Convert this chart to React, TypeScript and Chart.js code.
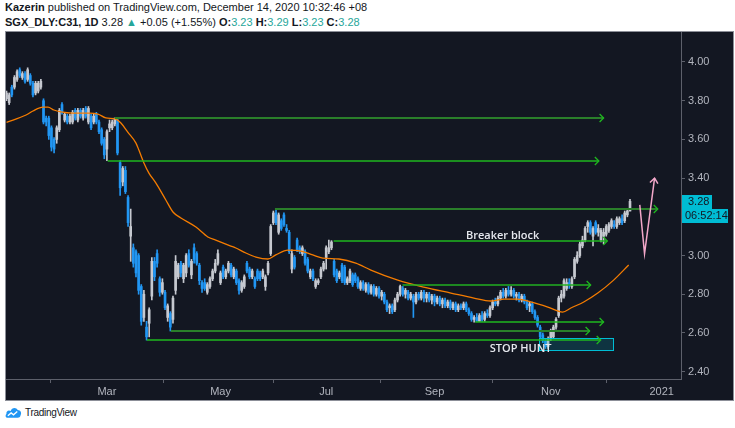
import React, { useEffect, useRef } from "react";
import { Chart, registerables } from "chart.js";

Chart.register(...registerables);

// Bar index 0 = first SGX trading day of 2020; chart shows from bar 3.
const firstBar = 3;

const opens = [
  3.81,3.79,3.87,3.87,3.91,3.96,3.92,3.94,3.91,3.93,
  3.89,3.84,3.85,3.87,3.80,3.71,3.71,3.66,3.60,3.60,
  3.65,3.78,3.70,3.72,3.69,3.69,3.75,3.70,3.75,3.71,
  3.76,3.69,3.72,3.69,3.73,3.69,3.65,3.60,3.55,3.66,
  3.66,3.68,3.70,3.48,3.38,3.44,3.30,3.10,3.04,3.02,
  3.00,2.84,2.68,2.63,2.65,2.79,2.97,3.01,2.88,2.81,
  2.81,2.68,2.70,2.67,2.82,2.89,2.96,2.88,2.91,3.01,
  2.90,3.04,3.01,2.95,2.86,2.86,2.81,2.84,2.88,2.92,
  2.96,2.86,2.94,2.89,2.92,2.95,2.89,2.92,2.87,2.82,
  2.84,2.96,2.93,2.89,2.88,2.92,2.91,2.89,2.84,2.91,
  3.01,3.17,3.22,3.12,3.18,3.21,3.14,3.12,2.93,2.99,
  3.08,3.04,3.01,3.02,2.98,2.89,2.92,2.84,2.86,2.89,
  2.93,2.99,3.02,3.04,2.97,2.92,2.89,2.95,2.94,2.86,
  2.87,2.90,2.90,2.88,2.83,2.86,2.82,2.85,2.81,2.84,
  2.80,2.83,2.79,2.80,2.76,2.73,2.74,2.72,2.77,2.80,
  2.83,2.80,2.81,2.78,2.79,2.76,2.80,2.78,2.81,2.78,
  2.80,2.77,2.79,2.76,2.78,2.75,2.77,2.74,2.76,2.73,
  2.75,2.72,2.74,2.73,2.75,2.72,2.70,2.67,2.68,2.66,
  2.69,2.67,2.70,2.69,2.73,2.76,2.75,2.78,2.81,2.79,
  2.82,2.80,2.82,2.79,2.80,2.77,2.79,2.76,2.74,2.75,
  2.71,2.68,2.63,2.59,2.56,2.53,2.57,2.58,2.63,2.69,
  2.78,2.79,2.83,2.86,2.84,2.89,2.97,3.00,3.05,3.08,
  3.15,3.17,3.10,3.17,3.12,3.08,3.10,3.11,3.13,3.15,
  3.16,3.15,3.17,3.19,3.18,3.21,3.23
];
const highs = [
  3.85,3.84,3.88,3.93,3.96,3.97,3.95,3.95,3.97,3.94,
  3.90,3.90,3.90,3.91,3.81,3.72,3.72,3.67,3.61,3.67,
  3.76,3.79,3.74,3.73,3.73,3.75,3.76,3.76,3.76,3.76,
  3.77,3.77,3.73,3.73,3.74,3.70,3.66,3.61,3.65,3.70,
  3.70,3.71,3.71,3.49,3.46,3.46,3.31,3.24,3.06,3.03,
  3.01,2.85,2.82,2.66,2.73,2.99,2.99,3.03,2.89,2.88,
  2.82,2.75,2.71,2.79,3.00,2.96,2.97,2.96,3.01,3.03,
  2.98,3.06,3.02,2.96,2.87,2.88,2.86,2.89,2.93,2.98,
  3.03,2.92,2.95,2.93,2.97,2.96,2.94,2.93,2.88,2.87,
  2.90,2.97,2.94,2.93,2.89,2.93,2.92,2.93,2.90,2.97,
  3.16,3.23,3.24,3.22,3.19,3.22,3.16,3.13,3.03,3.00,
  3.09,3.05,3.05,3.03,2.99,2.93,2.93,2.88,2.88,2.94,
  2.97,3.05,3.08,3.077,2.98,2.93,2.92,2.96,2.95,2.89,
  2.93,2.91,2.91,2.89,2.87,2.87,2.86,2.86,2.85,2.85,
  2.84,2.84,2.82,2.81,2.77,2.75,2.75,2.78,2.81,2.847,
  2.84,2.83,2.82,2.81,2.80,2.81,2.81,2.82,2.82,2.81,
  2.81,2.80,2.80,2.79,2.79,2.78,2.78,2.77,2.77,2.76,
  2.76,2.75,2.75,2.76,2.76,2.73,2.71,2.69,2.70,2.70,
  2.71,2.71,2.72,2.74,2.77,2.78,2.79,2.82,2.83,2.83,
  2.84,2.84,2.83,2.81,2.81,2.80,2.80,2.77,2.76,2.76,
  2.72,2.69,2.64,2.60,2.57,2.58,2.62,2.64,2.68,2.79,
  2.82,2.88,2.88,2.88,2.89,2.99,3.02,3.07,3.10,3.15,
  3.18,3.18,3.15,3.18,3.16,3.14,3.14,3.16,3.17,3.19,
  3.18,3.20,3.20,3.21,3.23,3.24,3.29
];
const lows = [
  3.80,3.78,3.82,3.86,3.90,3.92,3.91,3.89,3.90,3.88,
  3.82,3.83,3.84,3.86,3.68,3.67,3.60,3.54,3.53,3.58,
  3.64,3.73,3.69,3.68,3.68,3.68,3.70,3.69,3.71,3.70,
  3.71,3.68,3.65,3.68,3.68,3.63,3.57,3.50,3.49,3.64,
  3.65,3.67,3.52,3.31,3.36,3.32,3.15,2.97,2.94,2.89,
  2.80,2.64,2.66,2.563,2.58,2.77,2.87,2.94,2.79,2.80,
  2.72,2.66,2.61,2.65,2.80,2.88,2.89,2.86,2.89,2.94,
  2.88,2.96,2.95,2.85,2.81,2.82,2.80,2.83,2.87,2.91,
  2.95,2.85,2.88,2.88,2.91,2.89,2.88,2.85,2.80,2.81,
  2.83,2.91,2.88,2.88,2.83,2.87,2.87,2.88,2.82,2.90,
  3.00,3.16,3.16,3.11,3.13,3.15,3.12,3.01,2.91,2.93,
  3.02,3.01,3.00,2.95,2.91,2.88,2.87,2.83,2.85,2.88,
  2.92,2.93,3.01,3.03,2.89,2.86,2.88,2.86,2.85,2.85,
  2.86,2.84,2.86,2.83,2.82,2.82,2.81,2.80,2.80,2.79,
  2.79,2.78,2.77,2.75,2.71,2.70,2.70,2.71,2.76,2.79,
  2.79,2.78,2.77,2.77,2.68,2.75,2.77,2.77,2.76,2.76,
  2.76,2.75,2.74,2.75,2.74,2.73,2.73,2.73,2.72,2.72,
  2.71,2.71,2.72,2.72,2.71,2.69,2.66,2.656,2.66,2.66,
  2.66,2.66,2.68,2.68,2.72,2.74,2.74,2.77,2.78,2.78,
  2.79,2.79,2.78,2.77,2.76,2.76,2.75,2.72,2.71,2.70,
  2.67,2.63,2.57,2.55,2.52,2.52,2.56,2.57,2.62,2.68,
  2.76,2.78,2.82,2.83,2.83,2.88,2.96,2.99,3.04,3.07,
  3.12,3.11,3.05,3.11,3.10,3.07,3.06,3.10,3.12,3.14,
  3.14,3.14,3.16,3.16,3.17,3.20,3.23
];
const closes = [
  3.84,3.83,3.83,3.92,3.95,3.93,3.94,3.90,3.96,3.89,
  3.83,3.89,3.89,3.90,3.69,3.69,3.62,3.56,3.55,3.66,
  3.75,3.74,3.73,3.69,3.72,3.74,3.71,3.75,3.72,3.75,
  3.72,3.76,3.66,3.72,3.69,3.64,3.58,3.52,3.64,3.68,
  3.69,3.71,3.53,3.35,3.45,3.33,3.17,3.15,2.96,2.91,
  2.82,2.66,2.80,2.58,2.72,2.97,2.89,2.96,2.81,2.86,
  2.73,2.74,2.63,2.78,2.97,2.95,2.91,2.95,3.00,2.95,
  2.97,2.98,2.96,2.87,2.83,2.83,2.85,2.88,2.92,2.96,
  3.01,2.91,2.89,2.92,2.96,2.90,2.93,2.86,2.82,2.86,
  2.89,2.92,2.89,2.92,2.84,2.88,2.88,2.92,2.89,2.96,
  3.15,3.22,3.17,3.21,3.14,3.16,3.13,3.02,3.01,2.94,
  3.03,3.02,3.04,2.96,2.92,2.92,2.88,2.87,2.87,2.93,
  2.96,3.04,3.04,3.07,2.90,2.87,2.91,2.87,2.86,2.88,
  2.92,2.85,2.87,2.84,2.86,2.83,2.85,2.81,2.84,2.80,
  2.83,2.79,2.81,2.76,2.72,2.74,2.71,2.77,2.80,2.84,
  2.80,2.82,2.78,2.80,2.76,2.80,2.78,2.81,2.78,2.80,
  2.77,2.79,2.76,2.78,2.75,2.77,2.74,2.76,2.73,2.75,
  2.72,2.74,2.73,2.75,2.72,2.70,2.67,2.68,2.66,2.69,
  2.67,2.70,2.69,2.73,2.76,2.75,2.78,2.81,2.79,2.82,
  2.80,2.82,2.79,2.80,2.77,2.79,2.76,2.73,2.75,2.71,
  2.68,2.64,2.58,2.56,2.53,2.57,2.61,2.63,2.67,2.78,
  2.80,2.87,2.86,2.85,2.88,2.98,3.00,3.06,3.08,3.14,
  3.17,3.12,3.14,3.12,3.14,3.13,3.12,3.15,3.16,3.18,
  3.15,3.19,3.19,3.17,3.22,3.23,3.28
];

// Moving average, read at sample bars
const maIdx = [3, 10.4, 13, 16.8, 18.7, 20.9, 23.6, 28.1, 34.2, 37.6, 40.6, 44.4, 46.3, 48.9, 52, 53.1, 55, 56.9, 59.5, 63.3, 66, 69, 74.7, 79.2, 82.2, 87.9, 89.8, 93.6, 97.4, 101.9, 104.9, 109.5, 114.4, 118.9, 122.7, 128.8, 135.2, 140.9, 151.1, 160.9, 171.2, 179.9, 186.3, 191.2, 196.5, 201.4, 207.9, 213.5, 216.6, 221.5, 226.8, 232.8, 238.5];
const maVal = [3.688, 3.726, 3.747, 3.767, 3.767, 3.752, 3.742, 3.736, 3.736, 3.731, 3.711, 3.705, 3.685, 3.638, 3.581, 3.545, 3.478, 3.426, 3.375, 3.287, 3.225, 3.194, 3.147, 3.096, 3.08, 3.049, 3.039, 3.013, 2.992, 2.982, 3.003, 3.028, 3.023, 3.003, 2.987, 2.982, 2.961, 2.925, 2.873, 2.837, 2.806, 2.78, 2.765, 2.775, 2.775, 2.76, 2.734, 2.708, 2.729, 2.76, 2.806, 2.873, 2.951];

const xTickIdx = [41, 84, 124, 165, 209, 251];
const xTickLabels = ["Mar", "May", "Jul", "Sep", "Nov", "2021"];
const yTicks = [2.4, 2.6, 2.8, 3.0, 3.2, 3.4, 3.6, 3.8, 4.0];

// Horizontal arrow levels drawn on the chart
const levelStart = [44, 41.3, 104.6, 126.8, 152.9, 180.4, 65.2, 56.1];
const levelEnd = [229, 227.2, 249.5, 230.4, 224.1, 229, 223.7, 227.9];
const levelPrice = [3.712, 3.487, 3.24, 3.076, 2.847, 2.656, 2.61, 2.563];
const levelColor = ["#2a7f2a", "#1fb81f", "#2a7f2a", "#1fb81f", "#22b022", "#1fb81f", "#2a7f2a", "#1fb81f"];
const levelWidth = [2, 1.5, 2, 1.5, 1.5, 1.5, 2, 1.5];

// Projected path (pink)
const pathIdx = [242.7, 244.5, 248.3];
const pathPrice = [3.262, 3.01, 3.4];

// Stop hunt zone
const zoneIdx = [204.4, 232.7];
const zonePrice = [2.575, 2.512];

const noteText = ["Breaker block", "STOP HUNT"];
const noteIdx = [190.8, 197.6];
const notePrice = [3.101, 2.519];

const lastPrice = 3.28;
const countdown = "06:52:14";

const axisFont = { family: "'Liberation Sans Narrow', 'Liberation Sans', Arial, sans-serif", size: 11 };
const teal = "#26a69a";

export default function App() {
  const ref = useRef<HTMLCanvasElement>(null);

  useEffect(() => {
    const canvas = ref.current;
    if (!canvas) return;
    const upColor = "#c6c9d0";
    const downColor = "#2196f3";
    const colors = opens.map((o, i) => (closes[i] >= o ? upColor : downColor));
    const bodyData = opens.map((o, i) => ({ x: firstBar + i, y: [o, closes[i]] }));
    const wickData = opens.map((o, i) => ({ x: firstBar + i, y: [lows[i], highs[i]] }));
    const maData = maIdx.map((x, i) => ({ x, y: maVal[i] }));

    const bgPlugin = {
      id: "bg",
      beforeDraw(chart: any) {
        const { ctx, width, height } = chart;
        ctx.save();
        ctx.fillStyle = "#131722";
        ctx.fillRect(0, 0, width, height);
        ctx.restore();
      },
    };

    const drawPlugin = {
      id: "drawings",
      afterDatasetsDraw(chart: any) {
        const { ctx, chartArea } = chart;
        const xs = chart.scales.x;
        const ys = chart.scales.y;
        ctx.save();
        ctx.beginPath();
        ctx.rect(chartArea.left, chartArea.top, chartArea.right - chartArea.left, chartArea.bottom - chartArea.top);
        ctx.clip();

        // zone box
        const bx0 = Math.round(xs.getPixelForValue(zoneIdx[0])) + 0.5;
        const bx1 = Math.round(xs.getPixelForValue(zoneIdx[1])) + 0.5;
        const by0 = Math.round(ys.getPixelForValue(zonePrice[0])) + 0.5;
        const by1 = Math.round(ys.getPixelForValue(zonePrice[1])) + 0.5;
        ctx.fillStyle = "rgba(0,188,212,0.18)";
        ctx.fillRect(bx0, by0, bx1 - bx0, by1 - by0);
        ctx.strokeStyle = "#00bcd4";
        ctx.lineWidth = 1;
        ctx.strokeRect(bx0, by0, bx1 - bx0, by1 - by0);

        // level arrows
        levelPrice.forEach((p, i) => {
          const x0 = xs.getPixelForValue(levelStart[i]);
          const x1 = xs.getPixelForValue(levelEnd[i]);
          const w = levelWidth[i];
          const yy = Math.round(ys.getPixelForValue(p));
          ctx.strokeStyle = levelColor[i];
          ctx.lineWidth = w;
          ctx.beginPath();
          ctx.moveTo(x0, yy);
          ctx.lineTo(x1, yy);
          ctx.stroke();
          ctx.strokeStyle = "#1fb81f";
          ctx.lineWidth = 1.3;
          ctx.beginPath();
          ctx.moveTo(x1 - 4, yy - 4);
          ctx.lineTo(x1, yy);
          ctx.lineTo(x1 - 4, yy + 4);
          ctx.stroke();
        });

        // pink projected path
        const pts = pathIdx.map((v, i) => [xs.getPixelForValue(v), ys.getPixelForValue(pathPrice[i])]);
        ctx.strokeStyle = "#f2a7c9";
        ctx.lineWidth = 1.5;
        ctx.beginPath();
        pts.forEach((pt, i) => (i === 0 ? ctx.moveTo(pt[0], pt[1]) : ctx.lineTo(pt[0], pt[1])));
        ctx.stroke();
        const tip = pts[pts.length - 1];
        const prev = pts[pts.length - 2];
        const dx = tip[0] - prev[0];
        const dy = tip[1] - prev[1];
        const len = Math.hypot(dx, dy);
        const ux = dx / len, uy = dy / len;
        const px = -uy, py = ux;
        ctx.beginPath();
        ctx.moveTo(tip[0] - ux * 5 + px * 4, tip[1] - uy * 5 + py * 4);
        ctx.lineTo(tip[0], tip[1]);
        ctx.lineTo(tip[0] - ux * 5 - px * 4, tip[1] - uy * 5 - py * 4);
        ctx.stroke();

        // notes
        ctx.fillStyle = "#e6e8ee";
        ctx.font = "600 11px 'Open Sans', 'Noto Sans', sans-serif";
        ctx.textAlign = "center";
        ctx.textBaseline = "middle";
        noteText.forEach((t, i) => {
          ctx.fillText(t, xs.getPixelForValue(noteIdx[i]), ys.getPixelForValue(notePrice[i]));
        });
        ctx.restore();
      },
      afterDraw(chart: any) {
        const { ctx, chartArea } = chart;
        const ys = chart.scales.y;
        const yy = Math.round(ys.getPixelForValue(lastPrice));
        const left = chartArea.right + 1;
        ctx.save();
        ctx.fillStyle = "#00bcd4";
        ctx.fillRect(left, yy - 6, 30, 14);
        ctx.fillRect(left, yy + 8, 46, 14);
        ctx.fillStyle = "#131722";
        ctx.font = `${axisFont.size}px ${axisFont.family}`;
        ctx.textAlign = "left";
        ctx.textBaseline = "middle";
        ctx.fillText(lastPrice.toFixed(2), left + 6, yy + 1);
        ctx.fillText(countdown, left + 3, yy + 15);
        ctx.restore();
      },
    };

    const chart = new Chart(canvas, {
      type: "bar",
      data: {
        datasets: [
          {
            type: "line",
            data: maData as any,
            borderColor: "#f57c00",
            borderWidth: 1.3,
            pointRadius: 0,
            cubicInterpolationMode: "monotone",
            order: 0,
          } as any,
          {
            type: "bar",
            data: bodyData as any,
            backgroundColor: colors,
            barThickness: 2,
            grouped: false,
            order: 1,
          } as any,
          {
            type: "bar",
            data: wickData as any,
            backgroundColor: colors,
            barThickness: 1,
            grouped: false,
            order: 2,
          } as any,
        ],
      },
      options: {
        animation: false,
        responsive: false,
        events: [],
        layout: { padding: 0 },
        plugins: { legend: { display: false }, tooltip: { enabled: false } },
        scales: {
          x: {
            type: "linear",
            min: 2.8,
            max: 258.3,
            offset: false,
            afterBuildTicks: (s: any) => {
              s.ticks = xTickIdx.map((v) => ({ value: v }));
            },
            afterFit: (s: any) => {
              s.height = 21;
              s.paddingLeft = 0;
              s.paddingRight = 0;
            },
            ticks: {
              autoSkip: false,
              maxRotation: 0,
              color: "#b2b5be",
              font: axisFont,
              padding: 2,
              callback: (_v: any, i: number) => xTickLabels[i],
            },
            grid: { drawOnChartArea: false, drawTicks: true, tickLength: 4, color: "#5d606b" },
            border: { display: true, color: "#5d606b" },
          },
          y: {
            type: "linear",
            position: "right",
            min: 2.362,
            max: 4.155,
            afterBuildTicks: (s: any) => {
              s.ticks = yTicks.map((v) => ({ value: v }));
            },
            afterFit: (s: any) => {
              s.width = 52;
              s.paddingTop = 0;
              s.paddingBottom = 0;
            },
            ticks: {
              color: "#b2b5be",
              font: axisFont,
              padding: 3,
              callback: (v: any) => Number(v).toFixed(2),
            },
            grid: { drawOnChartArea: false, drawTicks: true, tickLength: 4, color: "#5d606b" },
            border: { display: true, color: "#5d606b" },
          },
        },
      } as any,
      plugins: [bgPlugin, drawPlugin],
    });
    return () => chart.destroy();
  }, []);

  const hdrFont = "'Liberation Sans', Arial, sans-serif";
  return (
    <div style={{ position: "fixed", left: 0, top: 0, width: 735, height: 428, background: "#ffffff", overflow: "hidden" }}>
      <div style={{ position: "absolute", left: 5, top: 0, fontFamily: hdrFont, fontSize: 11, lineHeight: "15px", color: "#131722", whiteSpace: "nowrap" }}>
        <div>
          <b>Kazerin</b> published on TradingView.com, December 14, 2020 10:32:46 +08
        </div>
        <div>
          <b>SGX_DLY:C31, 1D</b> 3.28 <span style={{ color: teal }}>▲</span> +0.05 (+1.55%) <b>O:</b>
          <span style={{ color: teal }}>3.23</span> <b>H:</b>
          <span style={{ color: teal }}>3.29</span> <b>L:</b>
          <span style={{ color: teal }}>3.23</span> <b>C:</b>
          <span style={{ color: teal }}>3.28</span>
        </div>
      </div>
      <div style={{ position: "absolute", left: 5, top: 31, width: 727, height: 368, border: "1px solid #8c8f98" }}>
        <canvas ref={ref} width={727} height={368} style={{ display: "block", width: 727, height: 368 }} />
      </div>
      <div style={{ position: "absolute", left: 5, top: 405, display: "flex", alignItems: "center", gap: 3 }}>
        <svg width="17" height="14" viewBox="0 0 18 14">
          <path d="M3 13 C0.5 13 0 10.5 1.5 9 C1 6 4 4.5 6 6 C7 2 12 1.5 13.5 5 C16.5 5 18 8 16.5 10.5 C16 12.5 15 13 13.5 13 Z" fill="#2196f3" />
          <polyline points="3,11 6.5,8 9,10 13,6.5" fill="none" stroke="#ffffff" strokeWidth="1.4" />
        </svg>
        <span style={{ fontFamily: "'Liberation Sans', sans-serif", fontSize: 10, letterSpacing: -0.3, color: "#131722" }}>TradingView</span>
      </div>
    </div>
  );
}
